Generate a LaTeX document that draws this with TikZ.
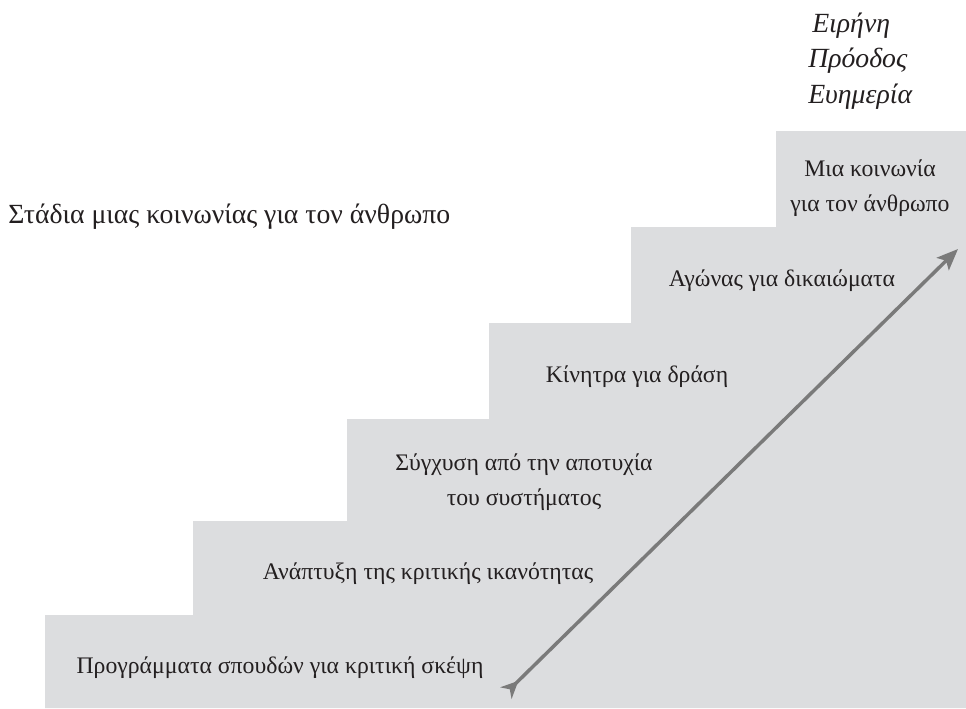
\documentclass[tikz,border=0pt]{standalone}
\usepackage{fontspec}
\setmainfont{Liberation Serif}
\usetikzlibrary{arrows.meta}
\definecolor{stairgrey}{HTML}{DCDDDF}
\definecolor{arrowgrey}{HTML}{7A7A7A}
\definecolor{inkgrey}{HTML}{231F20}
\begin{document}
\begin{tikzpicture}[x=0.75pt,y=-0.75pt,
  step label/.style={font=\fontsize{17.8}{26.5}\selectfont,align=center,text=inkgrey,inner sep=0pt},
  goal label/.style={font=\itshape\fontsize{20.8}{24}\selectfont,text=inkgrey,anchor=base west,inner sep=0pt},
  title label/.style={font=\fontsize{20.8}{24}\selectfont,text=inkgrey,anchor=base west,inner sep=0pt}]
  \useasboundingbox (0,0) rectangle (966,708);
  % the stairs
  \fill[stairgrey] (45,708) -- (45,615) -- (193,615) -- (193,521) -- (347,521)
     -- (347,419) -- (489,419) -- (489,323) -- (631,323) -- (631,227)
     -- (776,227) -- (776,131) -- (966,131) -- (966,708) -- cycle;

  \path (8,223)   node[title label] (title) {Στάδια μιας κοινωνίας για τον άνθρωπο}
        (812,32)  node[goal label] (peace) {Ειρήνη}
        (808,67)  node[goal label] (progress) {Πρόοδος}
        (808,103) node[goal label] (welfare) {Ευημερία};

  \path (280,668) node[step label] (s1) {Προγράμματα σπουδών για κριτική σκέψη}
        (428,574) node[step label] (s2) {Ανάπτυξη της κριτικής ικανότητας}
        (524,482) node[step label] (s3) {Σύγχυση από την αποτυχία\\του συστήματος}
        (637,377) node[step label] (s4) {Κίνητρα για δράση}
        (782,281) node[step label] (s5) {Αγώνας για δικαιώματα}
        (870,188) node[step label] (s6) {Μια κοινωνία\\για τον άνθρωπο};

  \coordinate (low) at (506,693);
  \coordinate (high) at (958,249);
  \draw[arrowgrey, line width=2.6pt,
        {Stealth[reversed,length=13pt,width=12pt,inset=4pt]}-{Stealth[length=16pt,width=13pt,inset=3.5pt]}]
        (low) -- (high);
\end{tikzpicture}
\end{document}
